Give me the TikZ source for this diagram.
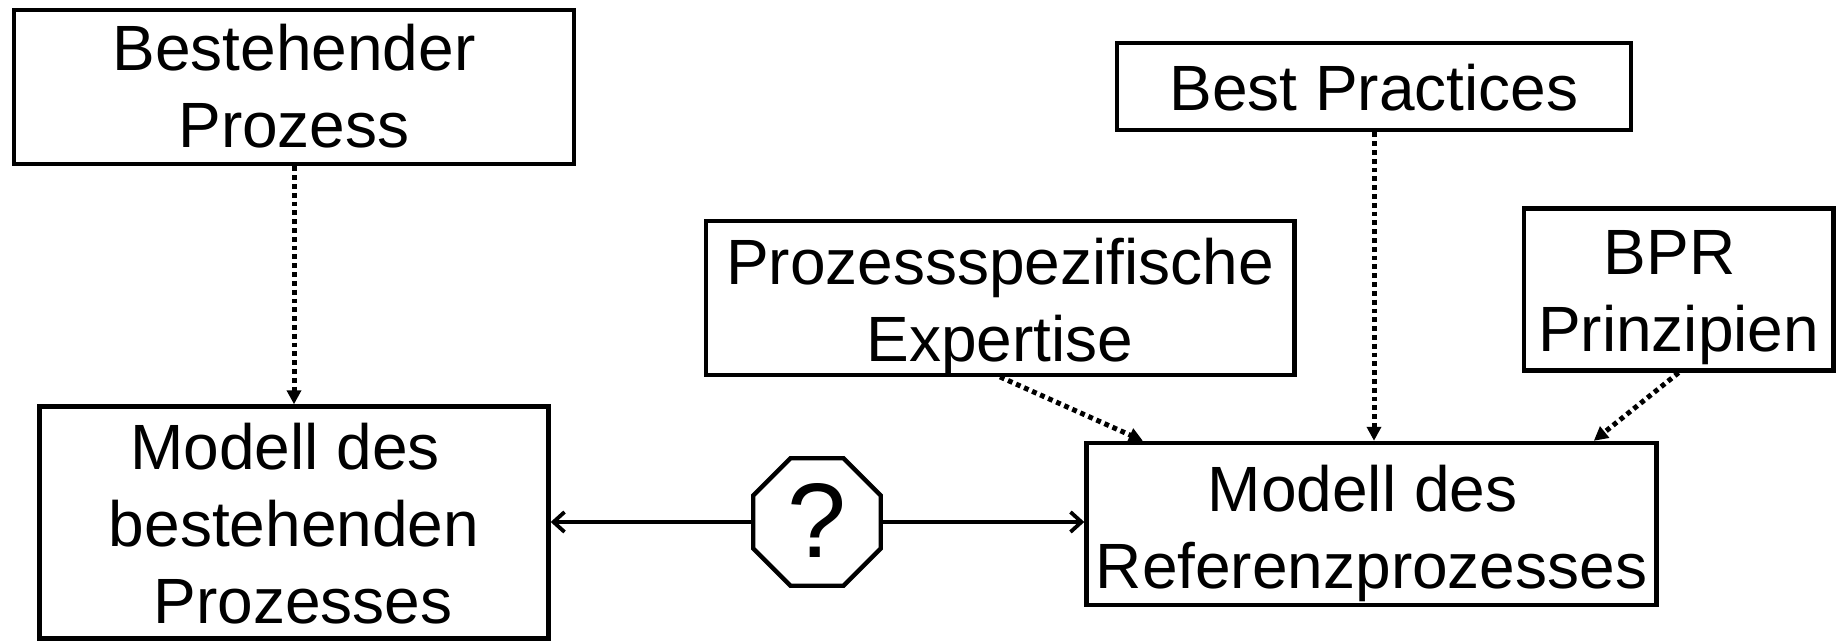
\documentclass[tikz,border=0pt]{standalone}
\usepackage{fontspec}
\setmainfont{Liberation Sans}
\usetikzlibrary{arrows.meta,shapes.geometric,calc}
% centred lines, moved down by #1 without changing the node's size
\newcommand{\droptext}[2]{\raisebox{-#1}[\height][\depth]{%
  \begin{tabular}{@{}c@{}}#2\end{tabular}}}
\begin{document}
\begin{tikzpicture}[x=0.5pt,y=-0.5pt,
  box/.style={draw,line width=2.2pt,rectangle,inner sep=0pt,align=center,
    font=\fontsize{32}{38.5}\selectfont},
  dotarrow/.style={line width=2.5pt,dash pattern=on 2.4pt off 2pt,
    -{Triangle[length=7pt,width=7pt]}},
  link/.style={line width=1.9pt,-{Straight Barb[length=5.5pt,width=10pt]}}]
  \useasboundingbox (0,0) rectangle (1838,642);

  % source boxes
  \node[box,minimum width=280pt,minimum height=74.6pt] (b1) at (294,87.3)
    {\droptext{3.3pt}{Bestehender\\Prozess}};
  \node[box,minimum width=294.3pt,minimum height=72.8pt] (exp) at (1000,297.7)
    {\droptext{4.8pt}{Prozessspezifische\\Expertise}};
  \node[box,minimum width=256.8pt,minimum height=43.5pt] (bp) at (1374,86.8)
    {\droptext{4pt}{Best Practices}};
  \node[box,minimum width=154.8pt,minimum height=81pt] (bpr) at (1678.6,289.5)
    {\droptext{3.8pt}{BPR\hspace*{.28em}\\Prinzipien}};

  % model boxes
  \node[box,minimum width=254.5pt,minimum height=116pt] (b2) at (294,522.5)
    {\droptext{4.5pt}{Modell des\hspace*{.28em}\\bestehenden\\\hspace*{.28em}Prozesses}};
  \node[box,minimum width=285pt,minimum height=81pt] (ref) at (1371.5,524)
    {\droptext{5.3pt}{Modell des\hspace*{.28em}\\Referenzprozesses}};

  % comparison marker
  \node[draw,line width=2.2pt,regular polygon,regular polygon sides=8,
    inner sep=0pt,minimum size=69pt,font=\fontsize{53}{53}\selectfont]
    (oct) at (817,522) {\raisebox{1.5pt}{?}};

  % connectors
  \draw[dotarrow] (b1.south) -- (b2.north);
  \draw[dotarrow] (exp.south) -- ($(ref.north west)!0.102!(ref.north east)$);
  \draw[dotarrow] (bp.south) -- (bp.south |- ref.north);
  \draw[dotarrow] (bpr.south) -- ($(ref.north west)!0.887!(ref.north east)$);
  \draw[link] (oct.west) -- (oct.west -| b2.east);
  \draw[link] (oct.east) -- (oct.east -| ref.west);
\end{tikzpicture}
\end{document}
